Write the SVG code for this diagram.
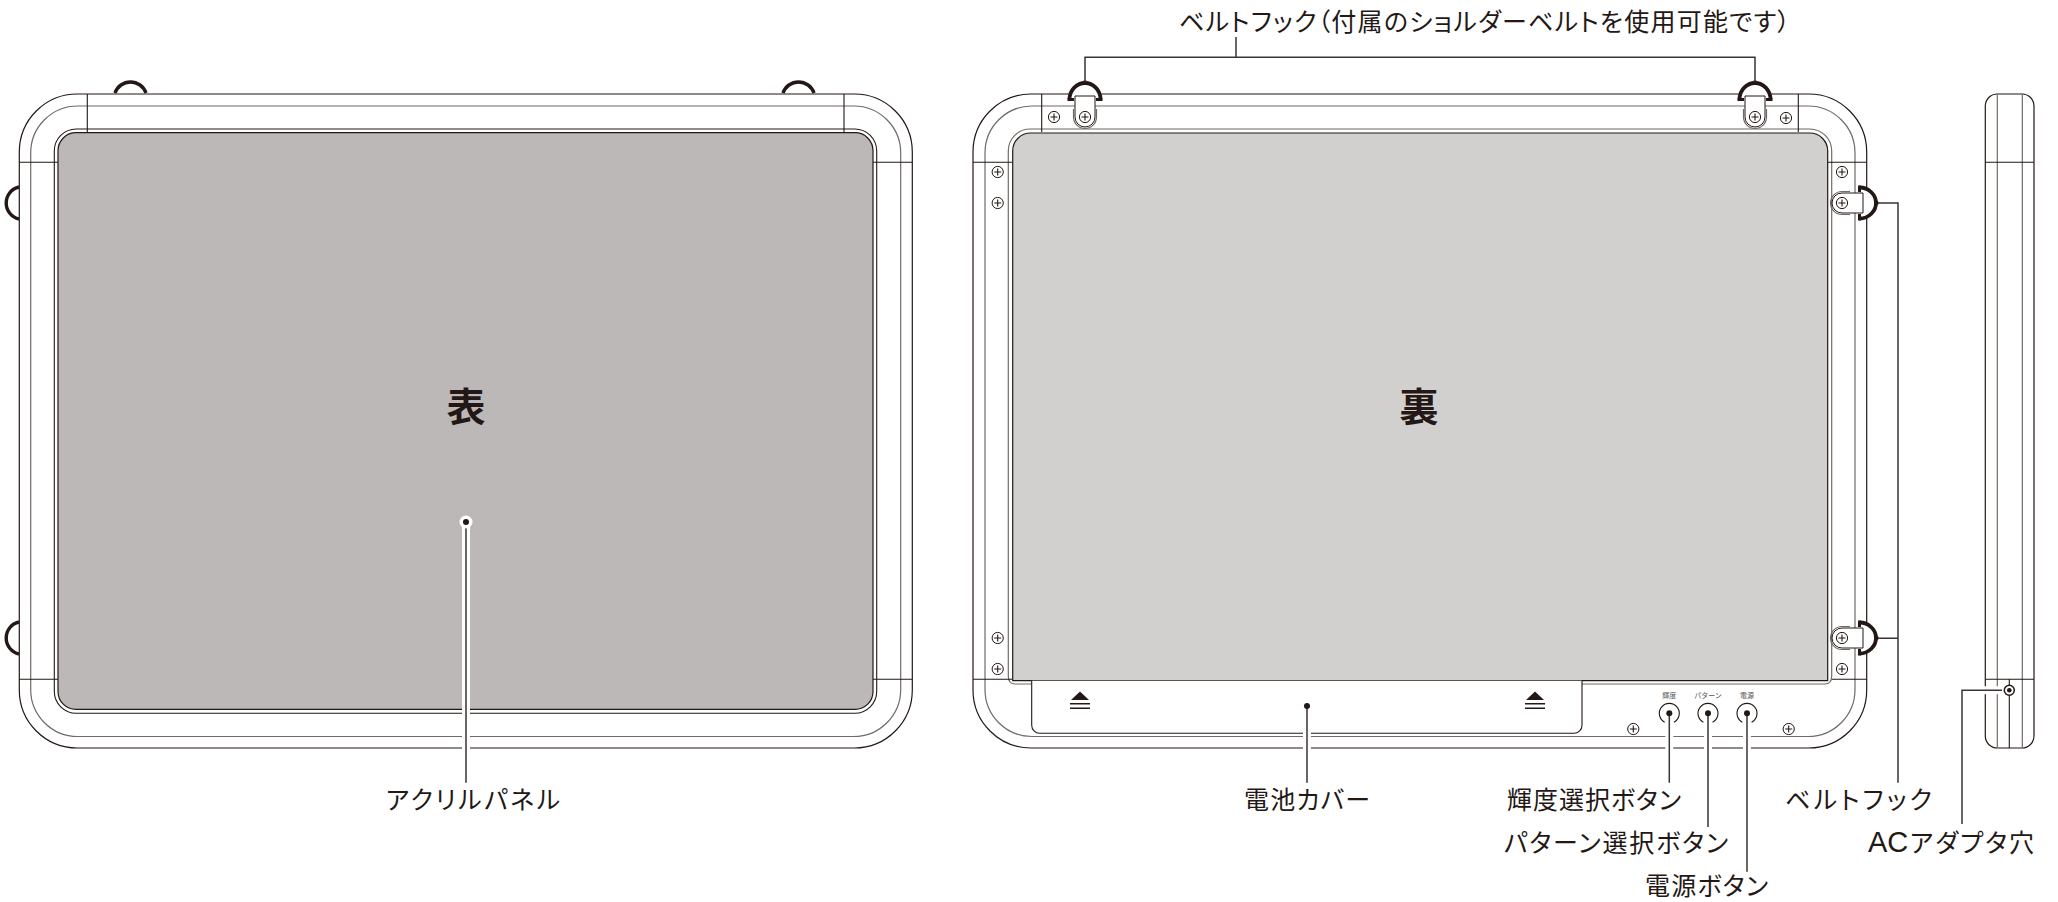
<svg xmlns="http://www.w3.org/2000/svg" width="2058" height="902" viewBox="0 0 2058 902">
<style>
.l{fill:none;stroke:#231815;stroke-width:1.1}
.g{fill:none;stroke:#6f6b69;stroke-width:1.2}
.o{fill:#fff;stroke:#231815;stroke-width:1.2}
.h{fill:none;stroke:#231815;stroke-width:3.4}
.hf{fill:#fff;stroke:#231815;stroke-width:3.8}
.halo{fill:none;stroke:#fff;stroke-width:8}
.lead{fill:none;stroke:#3a3534;stroke-width:1.5}
.t{font-family:"Noto Sans CJK JP","Noto Sans",sans-serif;font-size:25px;font-weight:400;fill:#231815;font-feature-settings:"palt"}
.s{font-family:"Noto Sans CJK JP","Noto Sans",sans-serif;font-size:7px;fill:#555;text-anchor:middle}
.b{font-family:"Noto Sans CJK JP","Noto Sans",sans-serif;font-size:39px;font-weight:700;fill:#231815;text-anchor:middle}
.d{fill:#231815}
</style>
<defs>
<g id="screw"><circle r="5.6" fill="#fff" stroke="#231815" stroke-width="1"/><path d="M-3.500 0H3.500M0-3.500V3.500" class="l"/></g>
<g id="hook">
<path d="M-15.500-17.500C-15.500-27-8-34 0-34S15.500-27 15.500-17.500" class="hf"/>
<path d="M-11.500-8V0A11.500 11.500 0 0 0 11.500 0V-8" class="g"/>
<path d="M-10-21H10V0A10 10 0 0 1-10 0Z" fill="#fff" stroke="#231815" stroke-width="1"/>
<path d="M-17.500-19H-11V-16H-17.500ZM11-19H17.500V-16H11Z" class="d"/>
<circle cy="-34.500" r="2.200" class="d"/>
<use href="#screw"/>
</g>
<g id="eject"><path d="M-9 9.500L0 1 9 9.500Z" class="d"/><path d="M-10 12.500H10V14H-10ZM-10 17H10V18.500H-10Z" class="d"/></g>
</defs>

<g id="front-view">
<path d="M115 93A16.400 16.400 0 0 1 146 93M783 93A16.400 16.400 0 0 1 814 93M19 187A16.400 16.400 0 0 0 19 219M19 622A16.400 16.400 0 0 0 19 654" class="h"/>
<rect x="19.300" y="94" width="893" height="654" rx="58" class="o"/>
<rect x="30.700" y="106" width="870" height="630.500" rx="47" class="g"/>
<rect x="54.300" y="129" width="822.400" height="584.300" rx="22" class="l"/>
<rect x="58" y="132.700" width="815" height="576.700" rx="18" fill="#bcb8b7" stroke="#231815" stroke-width="1.200"/>
<path d="M87.300 94V132M844 94V132M19.300 162.300H58M873 162.300H912.300M19.300 679.300H58M873 679.300H912.300" class="l"/>
<text class="b" x="466" y="421">表</text>
</g>

<g id="back-view">
<rect x="973" y="94" width="893.700" height="654" rx="58" class="o"/>
<rect x="985" y="106" width="870" height="630.500" rx="47" class="g"/>
<path d="M1008.300 676V151A22 22 0 0 1 1030.300 129H1809.700A22 22 0 0 1 1831.700 151V676Q1831.700 684 1825 684H1015Q1008.300 684 1008.300 676Z" class="g"/>
<path d="M1012.700 680.700V151A18 18 0 0 1 1030.700 133H1809.700A18 18 0 0 1 1827.700 151V680.700Z" fill="#d1d0ce" stroke="#231815" stroke-width="1.200"/>
<path d="M1031.700 680.700V725.300A8 8 0 0 0 1039.700 733.300H1574A8 8 0 0 0 1582 725.300V680.700" fill="#fff" stroke="#231815" stroke-width="1.100"/>
<path d="M1041.700 94V132M1798.300 94V132M973 162.300H1012M1828 162.300H1866.700M973 679.300H1012M1832 679.300H1866.700" class="l"/>
<use href="#eject" x="1080" y="690.500"/>
<use href="#eject" x="1535" y="690.500"/>
<use href="#screw" x="1054" y="117"/>
<use href="#screw" x="1786" y="118"/>
<use href="#screw" x="997.700" y="172"/>
<use href="#screw" x="997.700" y="203"/>
<use href="#screw" x="997.700" y="638"/>
<use href="#screw" x="997.700" y="669"/>
<use href="#screw" x="1842" y="172"/>
<use href="#screw" x="1842" y="669"/>
<use href="#screw" x="1633.300" y="729"/>
<use href="#screw" x="1788.700" y="729"/>
<use href="#hook" x="1085" y="117"/>
<use href="#hook" x="1755" y="117"/>
<use href="#hook" transform="translate(1842 203) rotate(90)"/>
<use href="#hook" transform="translate(1842 638) rotate(90)"/>
<text class="b" x="1419" y="421">裏</text>
<text class="s" x="1669.300" y="698">輝度</text>
<text class="s" x="1708" y="698">パターン</text>
<text class="s" x="1747" y="698">電源</text>
</g>

<g id="side-view">
<rect x="1985.300" y="94" width="48.700" height="654" rx="12" class="o"/>
<path d="M1997.300 94V748M2022.300 94V748" class="g"/>
<path d="M1985.300 162.300H2034M1985.300 679.300H2034M2009.300 679.300V748" class="l"/>
</g>

<g id="connectors">
<path d="M466 522V752M1307 706V752M1669.300 720V752M1708 720V752M1747 720V752M1981 690.300H2002" class="halo"/>
<path d="M466 522V782.700M1307 706V782.700M1669.300 713.300V782.700M1708 713.300V827M1747 713.300V871.700" class="lead"/>
<path d="M1236 37V57.300M1085 82V57.300H1755V82M1878 203H1898V782.700M1878 638.300H1898M1962 824V690.300H2002" class="lead"/>
</g>

<g id="points">
<circle cx="466" cy="522" r="6.500" fill="#fff"/><circle cx="466" cy="522" r="3" class="d"/>
<circle cx="1307" cy="706" r="3" class="d"/>
<path d="M1664.700 722.300A10 10 0 1 1 1673.900 722.300M1703.400 722.300A10 10 0 1 1 1712.600 722.300M1742.400 722.300A10 10 0 1 1 1751.600 722.300" class="l"/>
<circle cx="1669.300" cy="713.300" r="3" class="d"/><circle cx="1708" cy="713.300" r="3" class="d"/><circle cx="1747" cy="713.300" r="3" class="d"/>
<circle cx="2009.300" cy="690.300" r="5" fill="#fff" stroke="#231815" stroke-width="1.500"/><circle cx="2009.300" cy="690.300" r="2.300" class="d"/>
</g>

<g id="labels">
<text class="t" x="1179" y="31" textLength="611" lengthAdjust="spacing">ベルトフック（付属のショルダーベルトを使用可能です）</text>
<text class="t" x="386" y="809" textLength="174" lengthAdjust="spacing">アクリルパネル</text>
<text class="t" x="1244" y="809" textLength="126" lengthAdjust="spacing">電池カバー</text>
<text class="t" x="1507" y="809" textLength="174" lengthAdjust="spacing">輝度選択ボタン</text>
<text class="t" x="1785" y="809" textLength="147" lengthAdjust="spacing">ベルトフック</text>
<text class="t" x="1504" y="852" textLength="224" lengthAdjust="spacing">パターン選択ボタン</text>
<text class="t" y="852"><tspan x="1868" style="font-family:'Liberation Sans',sans-serif;font-size:29px">AC</tspan><tspan x="1910" textLength="124">アダプタ穴</tspan></text>
<text class="t" x="1645" y="895" textLength="123" lengthAdjust="spacing">電源ボタン</text>
</g>
</svg>
